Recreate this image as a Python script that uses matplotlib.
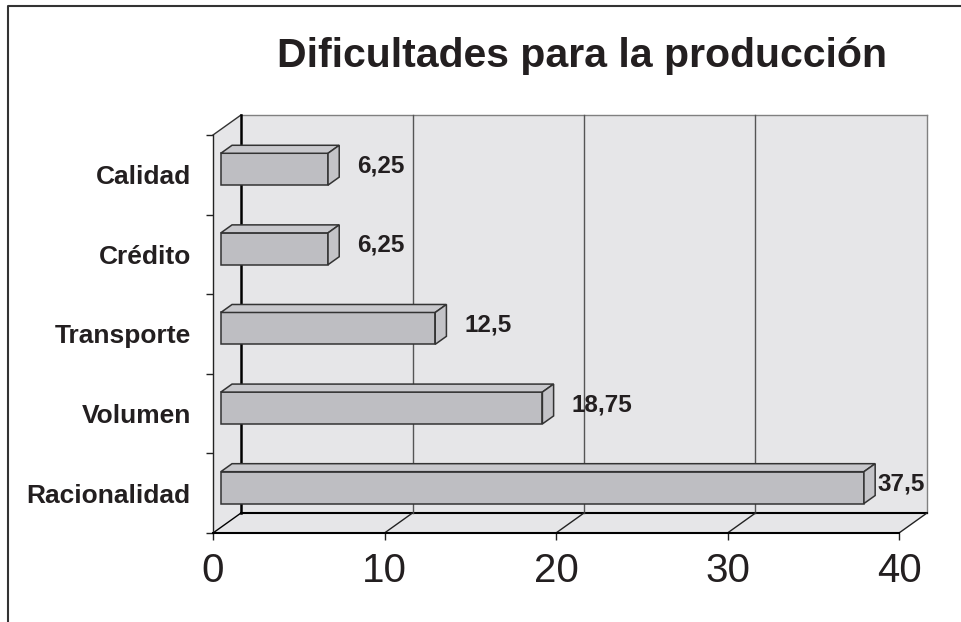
import matplotlib
matplotlib.use('Agg')
import matplotlib.pyplot as plt
from matplotlib.patches import Polygon
from matplotlib.lines import Line2D

categories = ['Racionalidad', 'Volumen', 'Transporte', 'Crédito', 'Calidad']
values = [37.5, 18.75, 12.5, 6.25, 6.25]
value_labels = ['37,5', '18,75', '12,5', '6,25', '6,25']
xticks = [0, 10, 20, 30, 40]
title = 'Dificultades para la producción'

plt.rcParams['font.family'] = ['Liberation Sans', 'DejaVu Sans']
ink = '#231f20'

W, H = 962, 622
fig = plt.figure(figsize=(W / 100, H / 100), dpi=100)
L, R, B, T = 213, 899, 533, 135
ax = fig.add_axes([L / W, 1 - B / H, (R - L) / W, (B - T) / H])
xmax = xticks[-1]
n = len(categories)
ax.set_xlim(0, xmax)
ax.set_ylim(-0.5, n - 0.5)
ax.patch.set_visible(False)

# depth offset of the 3d box, in data units
px_x = (R - L) / xmax
px_y = (B - T) / n
dxd = 28 / px_x
dyd = 20 / px_y


def P(x, y, d):
    return (x + d * dxd, y + d * dyd)


def face(pts, fc, ec, lw=1.0, z=1):
    ax.add_patch(Polygon([P(*p) for p in pts], closed=True, fc=fc, ec=ec,
                         lw=lw, zorder=z, clip_on=False, joinstyle='miter'))


def seg(p0, p1, color, lw, z=2):
    (xa, ya), (xb, yb) = P(*p0), P(*p1)
    ax.add_line(Line2D([xa, xb], [ya, yb], color=color, lw=lw, zorder=z,
                       clip_on=False))


wall = '#e6e6e8'
y0, y1 = -0.5, n - 0.5
face([(0, y0, 1), (xmax, y0, 1), (xmax, y1, 1), (0, y1, 1)], wall, 'none')
face([(0, y0, 0), (0, y1, 0), (0, y1, 1), (0, y0, 1)], wall, 'none')
face([(0, y0, 0), (xmax, y0, 0), (xmax, y0, 1), (0, y0, 1)], wall, 'none')

# wall edges and grid
seg((0, y1, 1), (xmax, y1, 1), '#808080', 1)
seg((xmax, y0, 1), (xmax, y1, 1), '#808080', 1)
seg((0, y1, 0), (0, y1, 1), '#333333', 1)
seg((0, y0, 1), (0, y1, 1), 'black', 1.8)
seg((0, y0, 1), (xmax, y0, 1), 'black', 1.5)
seg((0, y0, 0), (0, y0, 1), 'black', 1)
for t in xticks[1:-1]:
    seg((t, y0, 1), (t, y1, 1), '#555555', 1)
for t in xticks[1:]:
    seg((t, y0, 0), (t, y0, 1), '#222222', 1)

# bars
d0, d1, h = 0.28, 0.68, 0.2
ec = '#333333'
renderer = fig.canvas.get_renderer()
right_px = ax.transData.transform(P(xmax, y0, 1))[0]
for i, (v, lab) in enumerate(zip(values, value_labels)):
    face([(0, i - h, d0), (v, i - h, d0), (v, i + h, d0), (0, i + h, d0)],
         '#bebec2', ec, 1.1, 3)
    face([(0, i + h, d0), (v, i + h, d0), (v, i + h, d1), (0, i + h, d1)],
         '#c8c8cc', ec, 1.1, 3)
    face([(v, i - h, d0), (v, i - h, d1), (v, i + h, d1), (v, i + h, d0)],
         '#c3c3c7', ec, 1.1, 3)
    bx, by = P(v, i, 0.45)
    lx = P(v, i, d1)[0] + 18 / px_x
    txt = ax.text(lx, by, lab, ha='left', va='center', fontsize=17.5,
                  fontweight='bold', color=ink, zorder=4, clip_on=False)
    ext = txt.get_window_extent(renderer)
    if ext.x1 > right_px - 2:
        txt.set_x(lx - (ext.x1 - right_px + 2) / px_x)

# axes
for s in ['top', 'right']:
    ax.spines[s].set_visible(False)
ax.spines['left'].set_color('#222222')
ax.spines['left'].set_linewidth(1.0)
ax.spines['bottom'].set_color('black')
ax.spines['bottom'].set_linewidth(1.5)
ax.set_xticks(xticks)
ax.set_xticklabels([str(t) for t in xticks])
ax.tick_params(axis='x', direction='out', length=5, width=1, colors='#222222',
               labelsize=29, labelcolor=ink, pad=8.5)
ax.set_yticks([k - 0.5 for k in range(n + 1)])
ax.set_yticklabels([])
ax.set_yticks(range(n), minor=True)
ax.set_yticklabels(categories, minor=True, fontsize=19, fontweight='bold',
                   color=ink)
ax.tick_params(axis='y', which='major', direction='out', length=5, width=1,
               colors='#222222')
ax.tick_params(axis='y', which='minor', length=0, pad=16)

fig.text(582 / W, 1 - 67 / H, title, ha='center', va='baseline',
         fontsize=29.5, fontweight='bold', color=ink)

fig.add_artist(Line2D([8 / W, 8 / W, 1], [0, 1 - 6 / H, 1 - 6 / H],
                      transform=fig.transFigure, color='#333333', lw=1.5))

fig.savefig('out.png', dpi=100)
